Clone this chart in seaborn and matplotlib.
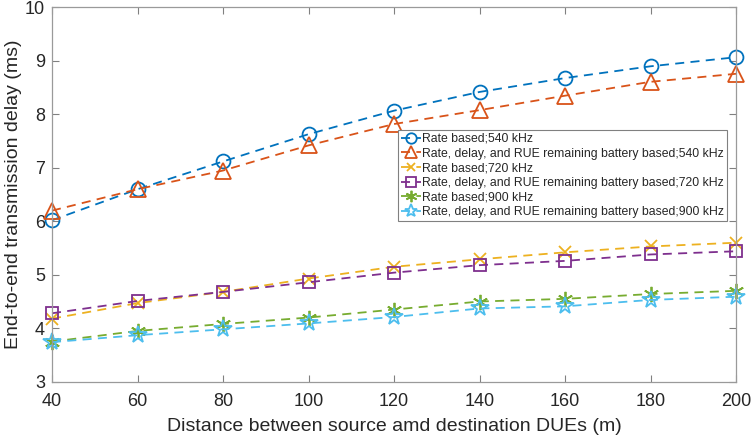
import numpy as np
import pandas as pd
import matplotlib
matplotlib.use("Agg")
import matplotlib.pyplot as plt
import seaborn as sns

# -------------------------------
# Data
# -------------------------------
distance = [40, 60, 80, 100, 120, 140, 160, 180, 200]

rate_540 = [6.02, 6.60, 7.12, 7.63, 8.07, 8.42, 8.68, 8.90, 9.07]
rdb_540 = [6.20, 6.60, 6.95, 7.42, 7.82, 8.08, 8.35, 8.61, 8.76]
rate_720 = [4.18, 4.47, 4.68, 4.93, 5.15, 5.29, 5.42, 5.53, 5.60]
rdb_720 = [4.28, 4.51, 4.68, 4.86, 5.04, 5.18, 5.26, 5.38, 5.44]
rate_900 = [3.75, 3.95, 4.08, 4.20, 4.35, 4.50, 4.55, 4.64, 4.70]
rdb_900 = [3.74, 3.87, 3.98, 4.09, 4.21, 4.37, 4.41, 4.53, 4.59]

labels = [
    "Rate based;540 kHz",
    "Rate, delay, and RUE remaining battery based;540 kHz",
    "Rate based;720 kHz",
    "Rate, delay, and RUE remaining battery based;720 kHz",
    "Rate based;900 kHz",
    "Rate, delay, and RUE remaining battery based;900 kHz",
]
series = [rate_540, rdb_540, rate_720, rdb_720, rate_900, rdb_900]

colors = ["#0072BD", "#D95319", "#EDB120", "#7E2F8E", "#77AC30", "#4DBEEE"]
markers = ["o", "^", "x", "s", (6, 2, 0), "*"]
msizes = [10, 11, 8, 9, 11, 13]

# -------------------------------
# Figure
# -------------------------------
sns.set_style("white")
plt.rcParams["font.family"] = ["Liberation Sans", "DejaVu Sans"]

fig = plt.figure(figsize=(7.52, 4.4), dpi=100)
ax = fig.add_axes([52 / 752, 1 - 381.7 / 440, (736 - 52) / 752, (381.7 - 7.5) / 440])

for vals, lab, c, m, ms in zip(series, labels, colors, markers, msizes):
    df = pd.DataFrame({"distance": distance, "delay": vals})
    sns.lineplot(data=df, x="distance", y="delay", ax=ax, color=c, marker=m,
                 markersize=ms, markerfacecolor="none", markeredgecolor=c,
                 markeredgewidth=1.3, linestyle="--", linewidth=1.3,
                 dashes=False, label=lab, clip_on=False)
    ax.lines[-1].set_dashes([5, 3.5])

ax.set_xlim(40, 200)
ax.set_ylim(3, 10)
ax.set_xticks(distance)
ax.set_yticks(range(3, 11))
ax.set_xlabel("Distance between source amd destination DUEs (m)", fontsize=14, color="#262626", labelpad=6)
ax.set_ylabel("End-to-end transmission delay (ms)", fontsize=14, color="#262626", labelpad=2)
ax.tick_params(direction="in", length=5, width=0.8, color="#808080", labelsize=13,
               labelcolor="#262626", top=True, right=True, bottom=True, left=True)
ax.tick_params(axis="x", pad=8)
ax.tick_params(axis="y", pad=5)
for s in ax.spines.values():
    s.set_color("#9a9a9a")
    s.set_linewidth(0.9)
    s.set_visible(True)

leg = ax.legend(loc="upper right", bbox_to_anchor=(0.987, 0.673), fontsize=8.8,
                frameon=True, fancybox=False, edgecolor="#808080", framealpha=1,
                handlelength=1.6, handletextpad=0.1, labelspacing=0.22,
                borderpad=0.25, borderaxespad=0, markerscale=0.75)
leg.get_frame().set_linewidth(0.8)

fig.savefig("out.png", dpi=100)
